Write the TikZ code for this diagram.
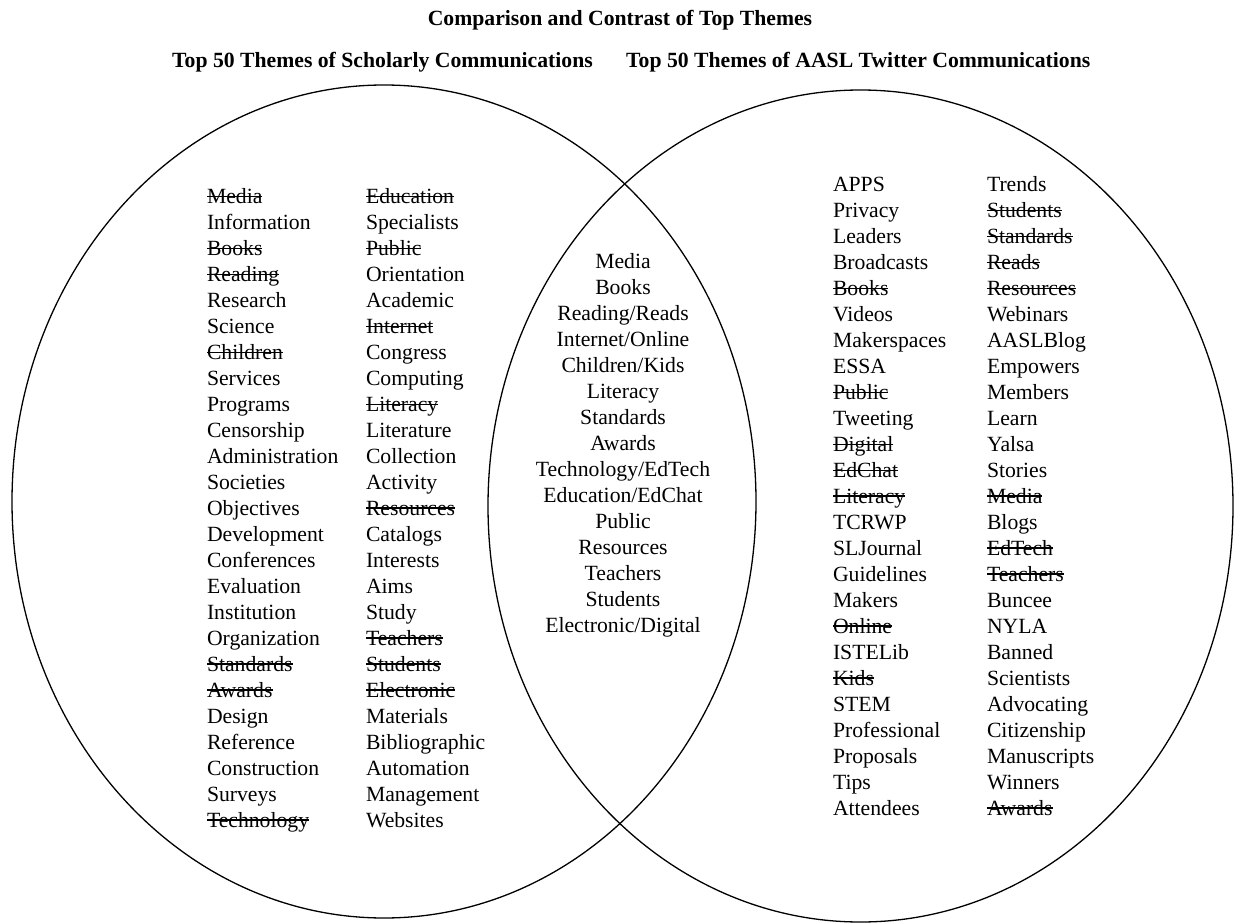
\documentclass[tikz,border=0pt]{standalone}
\usepackage{fontspec}
\setmainfont{Liberation Serif}
\usetikzlibrary{shapes.geometric}

% struck-out theme: the word with a thin rule drawn across it
\newcommand\xout[1]{\setbox0\hbox{#1}\rlap{\rule[0.3em]{\wd0}{0.07em}}\box0}

\tikzset{
  word/.style={inner sep=0pt, outer sep=0pt, anchor=base west,
    font=\fontsize{21.7}{26}\selectfont},
  midword/.style={word, anchor=base},
  heading/.style={inner sep=0pt, font=\fontsize{21.7}{26}\selectfont\bfseries},
  set/.style={draw, ellipse, inner sep=0pt, line width=1.3pt},
}

\begin{document}
\begin{tikzpicture}[x=1pt, y=-1pt]
\useasboundingbox (0,0) rectangle (1235,923);

% the two sets
\node[set, minimum width=744pt, minimum height=833pt] (scholarly) at (384,501.5) {};
\node[set, minimum width=745pt, minimum height=832pt] (twitter) at (860.5,506) {};

% headings
\node[heading, anchor=base] (title) at (620,26) {Comparison and Contrast of Top Themes};
\node[heading, anchor=base west] (lefthead) at (172,68) {Top 50 Themes of Scholarly Communications};
\node[heading, anchor=base west] (righthead) at (626,68) {Top 50 Themes of AASL Twitter Communications};

% scholarly only
\foreach \t [count=\i from 0] in {\xout{Media}, Information, \xout{Books}, \xout{Reading},
  Research, Science, \xout{Children}, Services, Programs, Censorship, Administration,
  Societies, Objectives, Development, Conferences, Evaluation, Institution,
  Organization, \xout{Standards}, \xout{Awards}, Design, Reference, Construction,
  Surveys, \xout{Technology}}
  \node[word] (sa\i) at (207,204+25.96*\i) {\t};

\foreach \t [count=\i from 0] in {\xout{Education}, Specialists, \xout{Public},
  Orientation, Academic, \xout{Internet}, Congress, Computing, \xout{Literacy},
  Literature, Collection, Activity, \xout{Resources}, Catalogs, Interests, Aims,
  Study, \xout{Teachers}, \xout{Students}, \xout{Electronic}, Materials,
  Bibliographic, Automation, Management, Websites}
  \node[word] (sb\i) at (366,204+25.96*\i) {\t};

% shared themes
\foreach \t [count=\i from 0] in {Media, Books, Reading/Reads, Internet/Online,
  Children/Kids, Literacy, Standards, Awards, Technology/EdTech, Education/EdChat,
  Public, Resources, Teachers, Students, Electronic/Digital}
  \node[midword] (both\i) at (623,268+26*\i) {\t};

% twitter only
\foreach \t [count=\i from 0] in {APPS, Privacy, Leaders, Broadcasts, \xout{Books},
  Videos, Makerspaces, ESSA, \xout{Public}, Tweeting, \xout{Digital}, \xout{EdChat},
  \xout{Literacy}, TCRWP, SLJournal, Guidelines, Makers, \xout{Online}, ISTELib,
  \xout{Kids}, STEM, Professional, Proposals, Tips, Attendees}
  \node[word] (ta\i) at (833,192+25.96*\i) {\t};

\foreach \t [count=\i from 0] in {Trends, \xout{Students}, \xout{Standards},
  \xout{Reads}, \xout{Resources}, Webinars, AASLBlog, Empowers, Members, Learn,
  Yalsa, Stories, \xout{Media}, Blogs, \xout{EdTech}, \xout{Teachers}, Buncee, NYLA,
  Banned, Scientists, Advocating, Citizenship, Manuscripts, Winners, \xout{Awards}}
  \node[word] (tb\i) at (987,192+25.96*\i) {\t};
\end{tikzpicture}
\end{document}
